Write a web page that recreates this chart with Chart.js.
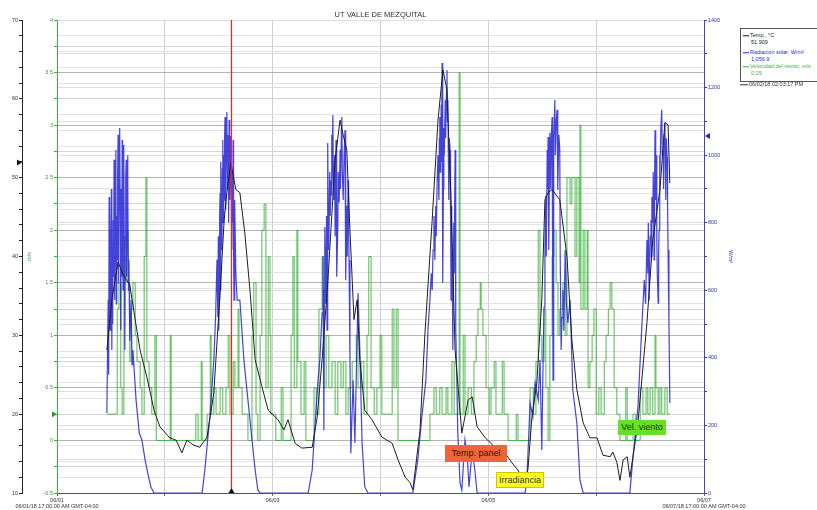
<!DOCTYPE html>
<html><head><meta charset="utf-8">
<script src="https://cdn.jsdelivr.net/npm/chart.js@4/dist/chart.umd.min.js"></script>
<style>
html,body{margin:0;padding:0;background:#fff;overflow:hidden}
#wrap{position:relative;width:817px;height:510px;overflow:hidden}
canvas{display:block}
.ann{position:absolute;font-family:"Liberation Sans",Arial,sans-serif;font-size:9px;line-height:1;display:flex;align-items:center;justify-content:center;white-space:nowrap;box-sizing:border-box}
#legend{position:absolute;left:740px;top:28px;width:90px;height:54px;border:1px solid #555;box-sizing:border-box;background:#fff}
.lt{position:absolute;font-family:"Liberation Sans",Arial,sans-serif;font-size:5.5px;line-height:1;white-space:nowrap;transform:translateY(-50%)}
.sw{display:inline-block;width:6px;height:1px;vertical-align:middle;margin-right:1px}
</style></head>
<body><div id="wrap"><canvas id="c" width="817" height="510"></canvas>
<div id="legend"></div>
<div class="lt" id="legdate" style="left:740px;top:85px;color:#333"><span class="sw" style="background:#333;width:8px"></span>06/02/18 02:03:17 PM</div>
<div class="ann" style="left:445px;top:445px;width:62px;height:17px;background:#f0643a;color:#3a1508">Temp. panel</div>
<div class="ann" style="left:496px;top:472px;width:48px;height:16px;background:#ffff1a;border:1px solid #c8c800;color:#333">Irradiancia</div>
<div class="ann" style="left:618px;top:420px;width:48px;height:15px;background:#66e028;color:#1c3a08">Vel. viento</div>
</div>
<script>
// ---- data (hours since 06/01 17:00, values) ----
const tempPoints = [[11.1,28.1],[12.2,34.5],[13.6,39.3],[14.7,37.7],[16.2,36.4],[17.4,32.0],[18.5,28.1],[20.0,24.7],[21.6,20.5],[22.9,18.4],[25.1,17.0],[26.5,16.7],[27.8,15.1],[28.9,16.7],[30.3,16.1],[31.8,15.8],[33.4,17.1],[34.9,22.7],[36.3,35.4],[37.2,44.6],[37.8,48.1],[38.7,51.9],[39.8,48.5],[40.7,48.1],[41.8,43.0],[43.0,35.4],[44.1,26.9],[45.6,23.5],[47.0,20.5],[49.2,19.3],[50.5,18.0],[51.4,19.3],[53.0,16.3],[54.5,15.7],[56.8,15.8],[57.9,19.6],[59.0,26.9],[60.3,37.0],[61.9,52.3],[63.0,57.3],[63.7,55.4],[64.5,53.5],[65.2,43.4],[66.1,32.0],[66.8,34.5],[67.4,26.9],[68.5,20.5],[70.1,19.3],[72.3,17.1],[74.6,16.3],[75.9,14.2],[77.5,12.0],[78.6,11.3],[79.2,10.4],[80.8,18.0],[81.9,30.3],[83.5,44.6],[84.8,57.3],[85.9,63.7],[86.8,61.1],[87.7,47.2],[88.6,28.1],[90.1,17.6],[91.5,21.8],[92.4,22.2],[93.5,18.4],[95.3,17.0],[97.5,15.8],[99.7,15.1],[101.3,13.8],[102.6,12.9],[103.7,11.6],[104.8,12.9],[105.7,19.6],[106.8,24.0],[107.9,34.5],[108.6,47.2],[109.3,48.1],[110.2,48.5],[111.1,47.8],[111.9,47.2],[113.5,40.0],[114.6,29.4],[115.7,23.1],[117.1,18.9],[118.6,17.0],[120.2,17.0],[121.5,14.8],[123.1,14.6],[123.7,15.2],[124.6,13.9],[125.3,11.6],[126.0,14.2],[126.9,14.6],[127.5,12.0],[128.2,14.6],[129.3,18.9],[131.3,31.6],[132.6,42.1],[134.2,48.5],[135.3,57.0],[136.0,56.7],[136.4,49.3]];

const radPoints = [
[11.1,237],[11.3,480],[11.4,571],[11.5,350],[11.6,876],[11.7,620],[11.8,482],[11.9,780],[12.0,719],[12.1,900],[12.2,423],[12.3,650],[12.4,500],[12.5,808],[12.6,640],[12.7,986],[12.8,760],[12.9,571],[13.0,880],[13.1,1015],[13.2,560],[13.3,820],[13.4,690],[13.5,950],[13.6,1060],[13.7,620],[13.8,867],[13.9,1000],[14.0,1080],[14.1,760],[14.2,482],[14.3,900],[14.4,640],[14.5,1045],[14.6,820],[14.7,601],[14.8,880],[14.9,1030],[15.0,700],[15.1,423],[15.2,760],[15.3,940],[15.4,986],[15.5,640],[15.6,867],[15.7,1000],[15.8,926],[15.9,600],[16.0,690],[16.2,450],[16.5,571],[16.7,380],[16.9,423],[17.6,275],[18.3,178],[18.9,157],[19.6,98],[20.3,53],[20.9,18],[21.6,0],
[32.3,0],[32.9,68],[34.1,237],[34.9,394],[35.3,520],[35.6,690],[35.8,520],[35.9,760],[36.0,480],[36.1,571],[36.2,820],[36.3,888],[36.4,600],[36.5,980],[36.6,760],[36.7,719],[36.8,960],[36.9,1045],[37.0,800],[37.1,1000],[37.2,867],[37.3,1050],[37.4,1113],[37.5,840],[37.6,926],[37.7,1080],[37.8,1128],[37.9,900],[38.0,1060],[38.1,1015],[38.2,800],[38.3,1104],[38.4,950],[38.5,867],[38.6,1000],[38.7,1057],[38.8,850],[38.9,719],[39.0,950],[39.1,800],[39.2,1045],[39.3,700],[39.4,571],[39.5,760],[39.6,867],[39.8,650],[40.1,571],[40.7,571],[41.6,394],[42.5,275],[43.4,157],[44.1,68],[44.7,9],[45.2,0],
[55.9,0],[56.8,68],[57.4,195],[58.1,334],[58.5,394],[59.0,533],[59.2,700],[59.4,186],[59.5,600],[59.6,787],[59.8,560],[60.0,820],[60.1,482],[60.2,900],[60.3,1036],[60.4,780],[60.5,719],[60.7,950],[60.8,820],[61.0,926],[61.1,1060],[61.2,880],[61.4,1119],[61.5,940],[61.6,867],[61.8,1000],[61.9,760],[62.1,1045],[62.2,880],[62.3,640],[62.5,787],[62.6,950],[62.8,860],[63.0,1015],[63.1,900],[63.3,1080],[63.4,1113],[63.5,950],[63.7,867],[63.9,1000],[64.1,1074],[64.2,820],[64.3,630],[64.5,850],[64.6,700],[64.8,926],[64.9,800],[65.0,690],[65.2,400],[65.4,118],[65.9,334],[66.3,148],[67.0,592],[67.4,423],[67.9,148],[68.5,18],[69.2,0],
[79.2,0],[80.3,98],[81.2,225],[82.1,334],[82.6,491],[83.0,571],[83.3,650],[83.5,600],[83.7,719],[83.9,820],[84.1,690],[84.3,850],[84.4,760],[84.6,918],[84.8,1000],[85.0,867],[85.1,1050],[85.2,1113],[85.3,950],[85.4,1015],[85.5,1150],[85.6,980],[85.7,1273],[85.8,900],[85.9,622],[86.0,900],[86.1,1080],[86.2,1000],[86.4,1163],[86.5,1050],[86.7,1200],[86.8,1252],[86.9,1100],[87.0,1163],[87.1,1000],[87.2,867],[87.3,1050],[87.5,1015],[87.6,800],[87.7,571],[87.8,850],[87.9,719],[88.0,600],[88.1,423],[88.3,800],[88.4,650],[88.6,1015],[88.7,700],[88.8,482],[89.0,326],[89.2,178],[89.7,30],[90.1,9],[90.8,157],[91.3,112],[91.7,18],[92.4,127],[93.0,68],[93.5,0],
[104.2,0],[104.6,47],[105.3,266],[105.9,225],[106.4,326],[107.1,275],[107.5,394],[107.9,127],[108.2,403],[108.4,550],[108.6,719],[108.8,880],[108.9,700],[109.1,1015],[109.2,900],[109.3,1054],[109.4,850],[109.5,719],[109.6,950],[109.7,1066],[109.9,900],[110.0,1050],[110.2,1113],[110.3,700],[110.4,334],[110.5,800],[110.6,1050],[110.8,1163],[110.9,1000],[111.1,1100],[111.3,1134],[111.4,950],[111.5,897],[111.7,1060],[111.9,1015],[112.0,700],[112.2,423],[112.4,520],[112.6,601],[112.8,480],[113.1,719],[113.4,560],[113.7,503],[114.2,571],[114.8,305],[115.7,207],[116.4,38],[117.1,0],
[127.5,0],[128.2,107],[128.8,186],[129.3,255],[129.8,394],[130.2,503],[130.7,630],[131.0,560],[131.3,749],[131.5,650],[131.6,800],[131.8,571],[132.0,760],[132.2,808],[132.3,700],[132.4,876],[132.6,800],[132.7,950],[132.9,690],[133.0,900],[133.1,1074],[133.2,950],[133.3,867],[133.4,1000],[133.5,749],[133.6,650],[133.8,562],[133.9,700],[134.0,778],[134.1,1000],[134.2,926],[134.4,1080],[134.6,1134],[134.7,1000],[134.9,1015],[135.0,900],[135.1,1060],[135.3,1095],[135.4,950],[135.5,867],[135.6,1050],[135.8,994],[135.9,850],[136.0,719],[136.2,500],[136.4,266]];

const windPoints = [
[11.1,0.25],[13.4,1.25],[13.8,1.5],[14.2,0.5],[14.5,0.25],[14.9,1.5],[15.4,1.75],[15.6,2.0],[15.8,1.5],[16.2,0.75],[16.5,1.25],[16.9,1.5],[17.4,1.0],[17.8,0.75],[18.5,0.5],[18.9,0.25],[19.4,1.75],[19.8,2.5],[20.0,0.75],[20.5,0.5],[21.1,0.25],[21.8,1.0],[22.1,0],[25.2,1.0],[25.4,0],[30.9,0.25],[31.4,0],[32.1,0.75],[32.3,0],
[33.4,0.25],[34.1,1.0],[34.3,0.25],[34.9,0.5],[35.4,0.25],[36.3,0.5],[36.9,0.25],[37.6,0.5],[38.1,1.0],[38.5,0.25],[39.2,0.75],[39.6,0.5],[40.3,1.25],[40.5,0.5],[41.2,0.25],[42.5,0],[43.4,1.0],[43.8,1.5],[44.3,0.25],[44.7,0],[45.2,1.0],[45.6,2.0],[46.1,2.25],[46.5,0.5],[47.0,1.75],[47.4,1.0],[47.6,0.25],[48.7,0],[49.9,0.5],[50.3,0],[52.1,1.0],[52.5,1.75],[52.8,0.5],[53.4,2.0],[53.6,0.75],[54.3,0.25],[55.0,0.75],[55.4,0],
[57.2,0.5],[57.7,0.25],[58.3,1.25],[59.0,1.75],[59.4,0.5],[59.9,1.0],[60.5,0.5],[61.2,0.75],[61.9,0.25],[62.5,0.75],[63.2,0.5],[63.7,0.75],[64.3,0.25],[64.8,0.5],[65.7,0.75],[66.6,1.0],[67.0,0.5],[67.7,0.75],[68.3,0.25],[69.0,1.0],[69.4,1.75],[69.9,0.5],[70.6,0.25],[71.2,0.5],[71.9,1.0],[72.3,0.25],[74.6,1.25],[75.0,0.5],[75.5,1.25],[75.9,0],
[83.0,0.25],[83.9,0.5],[84.4,0.25],[85.2,0.5],[85.7,0.25],[86.6,0.5],[87.0,0.25],[87.9,0.75],[88.4,0.25],[89.5,3.5],[89.7,0.25],[90.4,1.0],[90.8,0.25],[91.5,0.5],[92.2,0.25],[92.8,0.75],[93.3,1.0],[93.7,1.25],[94.2,1.5],[94.4,1.25],[94.8,1.0],[95.5,0.5],[96.2,0.25],[96.6,0.5],[97.3,0.75],[97.7,0.25],[99.1,0.75],[99.5,0.25],[100.4,0],[102.2,0.25],[102.6,0],
[105.3,0.5],[106.0,0.25],[106.6,0.75],[107.1,2.0],[107.5,1.0],[107.9,0.75],[108.4,1.25],[108.8,0.5],[109.3,0],[109.7,1.0],[110.2,1.75],[110.6,2.0],[111.1,1.5],[111.5,1.0],[111.9,1.25],[112.6,1.5],[113.1,1.0],[113.5,2.5],[114.2,2.25],[114.6,2.5],[115.3,1.75],[115.7,2.5],[116.2,1.5],[116.4,3.0],[116.6,1.25],[117.1,2.0],[117.5,1.25],[118.0,2.0],[118.2,0.5],[118.6,0.75],[119.1,1.0],[119.5,1.25],[120.0,0.25],[120.6,0.5],[121.1,0.25],[121.8,0.75],[122.2,1.0],[122.7,1.25],[123.1,1.5],[123.5,1.25],[124.0,0.5],[124.6,0.25],[125.3,0],[126.6,0.5],[126.9,0],
[128.2,0.25],[128.8,0],[129.8,0.5],[130.4,0.25],[131.1,0.5],[131.5,0.25],[132.0,0.5],[132.6,0.25],[133.1,1.0],[133.3,0.5],[133.8,0.25],[134.2,0.5],[134.6,0.25],[135.3,0.5],[135.8,0.25],[136.4,0.25]];

const xTickHours = [0,48,96,144];
const xTickLabels = ['06/01','06/03','06/05','06/07'];
const xSubLabels = ['06/01/18 17:00:00 AM GMT-04:00','','','06/07/18 17:00:00 AM GMT-04:00'];
const chartTitle = 'UT VALLE DE MEZQUITAL';
const cursorHour = 38.7;
const legendNames = ['Temp., °C','Radiación solar, W/m²','Velocidad del viento, m/s'];
const legendValues = ['51.909','1,056.9','0.25'];
const cursorValues = [51.909, 1056.9, 0.25];
const seriesColors = ['#1a1a1a','#2a2ad8','#3cb43c'];

// ---- legend (HTML text) ----
const lg = document.getElementById('legend');
const rowTops = [[7,14],[24,31],[38,45]];
legendNames.forEach((n,i)=>{
  const a = document.createElement('div'); a.className='lt';
  a.style.left='2px'; a.style.top=rowTops[i][0]+'px'; a.style.color=i===0?'#222':seriesColors[i];
  a.innerHTML = '<span class="sw" style="background:'+seriesColors[i]+'"></span>'+n;
  lg.appendChild(a);
  const b = document.createElement('div'); b.className='lt';
  b.style.left='10px'; b.style.top=rowTops[i][1]+'px'; b.style.color=i===0?'#222':seriesColors[i];
  b.textContent = legendValues[i];
  lg.appendChild(b);
});

const FF = '"Liberation Sans", Arial, sans-serif';
const toXY = arr => arr.map(p=>({x:p[0],y:p[1]}));

const overlay = {
  id:'overlay',
  afterDraw(chart){
    const {ctx, chartArea:a, scales:s} = chart;
    ctx.save();
    ctx.globalAlpha=1; ctx.globalCompositeOperation='source-over'; ctx.setLineDash([]);
    // cursor line
    const xc = Math.round(s.x.getPixelForValue(cursorHour))+0.5;
    ctx.strokeStyle='#ff1e1e'; ctx.lineWidth=1.2;
    ctx.beginPath(); ctx.moveTo(xc,a.top); ctx.lineTo(xc,a.bottom); ctx.stroke();
    const tri=(pts,col)=>{ctx.fillStyle=col;ctx.beginPath();ctx.moveTo(pts[0],pts[1]);ctx.lineTo(pts[2],pts[3]);ctx.lineTo(pts[4],pts[5]);ctx.closePath();ctx.fill();};
    let y = s.yT.getPixelForValue(cursorValues[0]);
    tri([s.yT.right-5,y-3,s.yT.right-5,y+3,s.yT.right,y],'#111');
    y = s.yW.getPixelForValue(cursorValues[2]);
    tri([s.yW.right-5,y-3,s.yW.right-5,y+3,s.yW.right,y],'#2a9a2a');
    y = s.yR.getPixelForValue(cursorValues[1]);
    tri([s.yR.left+6,y-3,s.yR.left+6,y+3,s.yR.left+1,y],'#2a2ab0');
    tri([xc-3,a.bottom,xc+3,a.bottom,xc,a.bottom-5],'#111');
    // title
    ctx.fillStyle='#333'; ctx.font='7.5px '+FF; ctx.textAlign='center'; ctx.textBaseline='middle';
    ctx.fillText(chartTitle,(a.left+a.right)/2,15);
    ctx.restore();
  }
};

new Chart(document.getElementById('c'),{
  type:'line',
  data:{datasets:[
    {label:legendNames[0],data:toXY(tempPoints),xAxisID:'x',yAxisID:'yT',borderColor:'#1e1e1e',borderWidth:1,pointRadius:0,order:1},
    {label:legendNames[1],data:toXY(radPoints),xAxisID:'x',yAxisID:'yR',borderColor:'rgba(35,35,215,0.85)',borderWidth:1.2,pointRadius:0,order:2},
    {label:legendNames[2],data:toXY(windPoints),xAxisID:'x',yAxisID:'yW',borderColor:'rgba(50,175,50,0.85)',borderWidth:1,pointRadius:0,stepped:true,order:3}
  ]},
  options:{
    responsive:false,animation:false,devicePixelRatio:1,
    layout:{padding:{top:20,right:83,left:0,bottom:0}},
    plugins:{legend:{display:false},tooltip:{enabled:false},title:{display:false}},
    scales:{
      x:{type:'linear',min:0,max:144,
        afterBuildTicks:sc=>{sc.ticks=[0,24,48,72,96,120,144].map(v=>({value:v}));},
        ticks:{autoSkip:false,maxRotation:0,minRotation:0,padding:1,color:'#333',font:{size:5.5,family:FF},
          callback:v=>{const i=xTickHours.indexOf(v); if(i<0) return ''; return xSubLabels[i]?[xTickLabels[i],xSubLabels[i]]:xTickLabels[i];}},
        grid:{color:'#cfcfcf',tickLength:3,tickColor:'#666'},
        border:{color:'#555'},
        afterFit:sc=>{sc.height=17;}},
      yT:{position:'left',weight:1,min:10,max:70,
        ticks:{stepSize:2,autoSkip:false,padding:1,color:'#333',font:{size:5.5,family:FF},callback:v=>(v%10===0?String(v):'')},
        grid:{color:'#e4e4e4',tickLength:3,tickColor:'#222'},
        border:{color:'#222'},
        afterFit:sc=>{sc.width=22;}},
      yW:{position:'left',weight:0,min:-0.5,max:4,
        ticks:{stepSize:0.25,autoSkip:false,padding:1,color:'#3a9a3a',font:{size:5.5,family:FF},
          callback:v=>(Math.abs(v*2-Math.round(v*2))<1e-6?String(v):'')},
        grid:{color:ctx=>{const v=ctx.tick?ctx.tick.value:0;return Math.abs(v*2-Math.round(v*2))<1e-6?'#b4b4b4':'#d6d6d6';},tickLength:3,tickColor:'#3cb43c'},
        border:{color:'#3cb43c'},
        title:{display:true,text:'m/s',color:'#3cb43c',font:{size:5.5,family:FF},padding:{top:4,bottom:0}},
        afterFit:sc=>{sc.width=35;}},
      yR:{position:'right',min:0,max:1400,
        ticks:{stepSize:100,autoSkip:false,padding:1,color:'#3333aa',font:{size:5.5,family:FF},callback:v=>(v%200===0?String(v):'')},
        grid:{color:'#dedede',tickLength:3,tickColor:'#3333aa'},
        border:{color:'#4444bb'},
        title:{display:true,text:'W/m²',color:'#3333aa',font:{size:5.5,family:FF},padding:{top:0,bottom:2}},
        afterFit:sc=>{sc.width=30;}}
    }
  },
  plugins:[overlay]
});
</script>
</body></html>
